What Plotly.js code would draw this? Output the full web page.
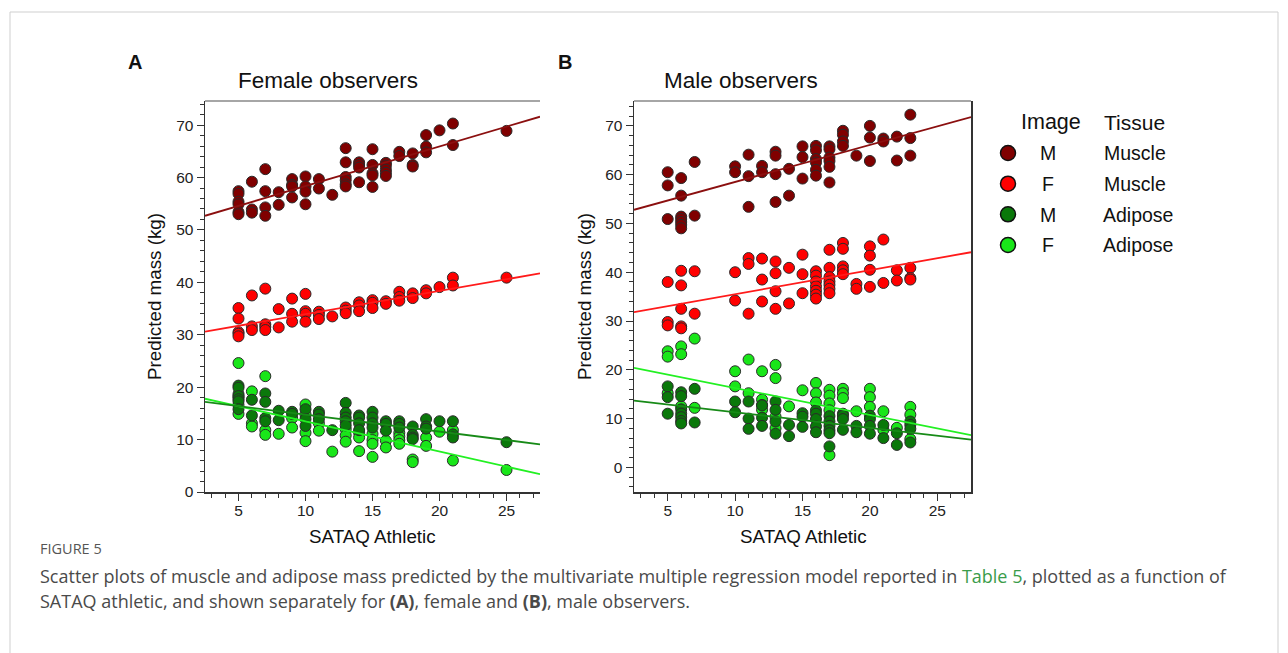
<!DOCTYPE html>
<html><head><meta charset="utf-8">
<script src="https://cdn.plot.ly/plotly-3.0.1.min.js"></script>
<style>html,body{margin:0;padding:0;background:#fff;} #chart{width:1288px;height:653px;}</style>
</head><body><div id="chart"></div>
<script>
// ---------------- DATA ----------------
const satA = [5,6,7,8,9,10,11,12,13,14,15,16,17,18,19,20,21,25];
const satB = [5,6,7,10,11,12,13,14,15,16,17,18,19,20,21,22,23];

// Panel A: female observers (values per SATAQ level, aligned with satA)
const aMuscleM = [[57.4,56.9,55.4,54.9,53.4,53.0],[59.2,53.9,53.3],[61.6,57.4,54.3,52.7],[57.2,54.8],[59.7,58.6,58.3,56.2],[60.2,58.3,57.3,54.9],[59.7,57.9],[56.7],[65.6,62.9,60.1,59.5,58.7,58.3],[62.9,62.4,61.9,59.1],[65.4,62.4,60.8,60.4,58.2],[62.8,62.3,61.5,60.9,60.3],[64.9,64.1],[64.6,62.4,62.1],[68.1,65.9,64.8],[69.0],[70.3,66.2],[68.9]];
const aMuscleF = [[35.1,33.1,30.5,30.2,29.7],[37.5,31.6,30.9],[38.8,32.0,31.5,30.9],[34.9,31.4],[36.9,34.0,32.5],[37.8,34.5,34.0,32.5],[34.4,33.8,33.0],[33.5],[35.2,34.6,34.1],[36.2,35.6,34.5],[36.6,36.1,35.1],[36.4,35.9],[38.2,37.2,36.5],[37.9,37.0],[38.5,37.9],[39.1],[40.9,39.4],[40.9]];
const aAdiposeM = [[20.3,19.9,18.3,17.7,17.3,15.8],[17.6,14.6],[18.8,17.2,14.1,13.5],[15.5,13.7],[15.3,14.9],[15.8,13.9,12.6],[15.3,14.8,13.9],[11.8],[17.0,15.1,14.2,13.5,12.7],[14.6,14.2,13.1,11.8],[15.3,14.2,13.1,12.3],[13.5,13.0,11.7],[13.5,13.0,12.3],[12.5,10.9,10.4,10.1],[13.9,12.5,12.1],[13.5],[13.5,11.0,10.4],[9.5]];
const aAdiposeF = [[24.6,18.7,18.1,16.6,14.9],[19.2,13.1,12.5],[22.1,11.8,10.9],[11.1],[14.1,12.3],[16.7,14.8,11.3,9.7],[13.1,11.7],[7.7],[12.0,10.8,9.6],[11.3,10.4,7.8],[11.1,9.9,9.2,6.7],[9.8,8.5],[11.3,10.6,9.9,9.2],[6.2,5.7],[10.4,8.8],[11.5],[11.8,6.0],[4.2]];

// Panel B: male observers (aligned with satB)
const bMuscleM = [[60.5,57.8,50.9],[59.3,55.7,51.4,50.9,50.3,49.7,49.0],[62.6,51.6],[61.7,60.5],[64.1,59.7,53.4],[61.8,60.5],[64.7,63.9,60.1,54.4],[61.2,55.7],[65.8,63.6,59.2],[65.9,65.0,63.2,62.5,61.0,59.8],[65.8,65.2,63.5,62.8,61.6,58.4],[69.0,68.2,66.8,65.9],[63.9],[70.0,67.6,62.8],[67.4,66.8],[67.8,62.9],[72.3,67.5,63.9]];
const bMuscleF = [[38.0,29.8,29.1],[40.3,37.3,32.5,28.9,28.5],[40.2,31.5],[40.0,34.2],[42.9,41.7,31.5],[42.8,38.5,34.0],[42.2,39.8,36.1,32.5],[40.9,33.6],[43.6,39.6,35.7],[40.2,39.3,38.1,37.1,36.2,35.4,34.6],[44.6,40.9,39.0,38.1,37.4,36.6,35.7],[46.0,44.8,41.2,40.4,39.6],[37.6,36.6],[45.3,43.4,40.5,37.0],[46.7,37.8],[40.4,38.3],[40.9,38.8,38.5]];
const bAdiposeM = [[16.6,14.4,11.0],[15.4,14.6,11.9,11.0,10.3,9.5,9.0],[16.1,9.2],[13.5,11.3],[13.5,10.0,7.9],[12.7,10.2,8.5],[13.5,11.8,9.4,6.9],[8.7,6.4],[11.1,10.4,8.3],[11.7,11.0,9.9,8.4,7.2],[10.5,9.4,8.5,7.6,7.0,4.3],[11.0,10.6,9.9,7.7],[8.5,7.2],[10.6,9.9,8.5,6.9],[8.7,6.0],[7.0,4.6],[9.4,8.7,7.9,5.1]];
const bAdiposeF = [[23.8,22.7,15.2],[24.8,23.2,12.5],[26.4,12.2],[19.7,16.6],[22.1,15.2],[19.7,13.9,12.8,11.8],[21.0,18.3,10.4,8.0],[12.5],[15.8],[17.3,15.2,13.3],[15.9,14.7,13.1,11.7,2.5],[16.1,15.2,14.2],[11.5],[16.1,14.4,12.4],[11.5,7.7],[8.1],[12.4,10.8,5.8]];

// Model lines (end values at lineX)
const lineX = [2.5, 27.5];
const aLineMuscleM = [52.7, 71.6];
const aLineMuscleF = [30.6, 41.7];
const aLineAdiposeM = [17.2, 9.1];
const aLineAdiposeF = [17.8, 3.4];
const bLineMuscleM = [52.8, 71.8];
const bLineMuscleF = [31.8, 44.1];
const bLineAdiposeM = [13.7, 5.7];
const bLineAdiposeF = [20.4, 6.6];

const yTicks = [0,10,20,30,40,50,60,70];
const xTicks = [5,10,15,20,25];
const legendImage = ['M','F','M','F'];
const legendTissue = ['Muscle','Muscle','Adipose','Adipose'];
const legendRows = [1,2,3,4];

// ---------------- STYLE ----------------
const W = 1288, H = 653;
const px = v => v / W, py = v => 1 - v / H;
const FONT = 'Liberation Sans, Arial, sans-serif';
const colors = {
  muscleM: '#800000', muscleF: '#ff0000', adiposeM: '#0a780a', adiposeF: '#19e619'
};
const lineColors = {
  muscleM: '#8b0f0f', muscleF: '#ff1a1a', adiposeM: '#178a17', adiposeF: '#22f022'
};

function expand(levels, groups) {
  const x = [], y = [];
  levels.forEach((lv, i) => groups[i].forEach(v => { x.push(lv); y.push(v); }));
  return {x, y};
}
function pts(levels, groups, color, xa, ya) {
  const d = expand(levels, groups);
  return {x: d.x, y: d.y, xaxis: xa, yaxis: ya, type: 'scatter', mode: 'markers',
    marker: {size: 11, color: color, line: {color: '#2a2a2a', width: 1}},
    showlegend: false, hoverinfo: 'skip'};
}
function line(vals, color, xa, ya) {
  return {x: lineX, y: vals, xaxis: xa, yaxis: ya, type: 'scatter', mode: 'lines',
    line: {color: color, width: 1.8}, showlegend: false, hoverinfo: 'skip'};
}

const traces = [
  pts(satA, aAdiposeF, colors.adiposeF, 'x', 'y'),
  pts(satA, aAdiposeM, colors.adiposeM, 'x', 'y'),
  pts(satA, aMuscleF, colors.muscleF, 'x', 'y'),
  pts(satA, aMuscleM, colors.muscleM, 'x', 'y'),
  line(aLineAdiposeF, lineColors.adiposeF, 'x', 'y'),
  line(aLineAdiposeM, lineColors.adiposeM, 'x', 'y'),
  line(aLineMuscleF, lineColors.muscleF, 'x', 'y'),
  line(aLineMuscleM, lineColors.muscleM, 'x', 'y'),
  pts(satB, bAdiposeF, colors.adiposeF, 'x2', 'y2'),
  pts(satB, bAdiposeM, colors.adiposeM, 'x2', 'y2'),
  pts(satB, bMuscleF, colors.muscleF, 'x2', 'y2'),
  pts(satB, bMuscleM, colors.muscleM, 'x2', 'y2'),
  line(bLineAdiposeF, lineColors.adiposeF, 'x2', 'y2'),
  line(bLineAdiposeM, lineColors.adiposeM, 'x2', 'y2'),
  line(bLineMuscleF, lineColors.muscleF, 'x2', 'y2'),
  line(bLineMuscleM, lineColors.muscleM, 'x2', 'y2'),
  {x: legendRows.map(() => 0.5), y: legendRows, xaxis: 'x3', yaxis: 'y3', type: 'scatter', mode: 'markers',
   marker: {size: 15, color: [colors.muscleM, colors.muscleF, colors.adiposeM, colors.adiposeF], line: {color: '#111', width: 1.5}},
   showlegend: false, hoverinfo: 'skip'}
];

const tickFont = {family: FONT, size: 15.5, color: '#222'};
function xAxis(dom, anchor) {
  return {domain: dom, anchor: anchor, range: [2.5, 27.5], tickvals: xTicks, ticktext: xTicks.map(String),
    ticks: 'outside', ticklen: 7, tickwidth: 1, tickcolor: '#333', showline: true, linecolor: '#333', linewidth: 1.5,
    showgrid: false, zeroline: false, tickfont: tickFont, fixedrange: true, ticklabelstandoff: -3,
    minor: {ticks: 'outside', ticklen: 4, tickwidth: 1, tickcolor: '#333', dtick: 1, tick0: 0, showgrid: false}};
}
function yAxis(dom, anchor, range, mirror) {
  return {domain: dom, anchor: anchor, range: range, tickvals: yTicks, ticktext: yTicks.map(String),
    ticks: 'outside', ticklen: 7, tickwidth: 1, tickcolor: '#333', showline: true, linecolor: '#333', linewidth: 1.5,
    mirror: mirror, showgrid: false, zeroline: false, tickfont: tickFont, fixedrange: true,
    minor: {ticks: 'outside', ticklen: 4, tickwidth: 1, tickcolor: '#333', dtick: 2, tick0: 0, showgrid: false}};
}

const yDom = [py(492), py(101)];
const ann = [];
function txt(x, y, text, size, opts) {
  ann.push(Object.assign({xref: 'paper', yref: 'paper', x: px(x), y: py(y), text: text, showarrow: false,
    font: {family: FONT, size: size, color: '#111'}, xanchor: 'center', yanchor: 'middle'}, opts || {}));
}
txt(135, 62, '<b>A</b>', 20);
txt(565, 62, '<b>B</b>', 20);
txt(327.5, 81, 'Female observers', 22.5);
txt(740.5, 81, 'Male observers', 22.5);
txt(155, 297, 'Predicted mass (kg)', 18.8, {textangle: -90});
txt(585, 297, 'Predicted mass (kg)', 18.8, {textangle: -90});
txt(372, 536, 'SATAQ Athletic', 18.8);
txt(803, 536, 'SATAQ Athletic', 18.8);
// legend headers and rows
txt(1050.5, 122, 'Image', 21.5);
txt(1134, 122, 'Tissue', 21);
const rowY = [153, 184, 215, 245];
const tissueX = [1134.5, 1134.5, 1137.5, 1137.5];
legendRows.forEach((r, i) => {
  txt(1048, rowY[i], legendImage[i], 19.5);
  txt(tissueX[i], rowY[i], legendTissue[i], 19.5);
});
// caption
const capFont = 'Open Sans, Noto Sans, sans-serif';
txt(38, 548, 'FIGURE 5', 14.5, {xanchor: 'left', font: {family: capFont, size: 14.5, color: '#555'}});
txt(38, 576, 'Scatter plots of muscle and adipose mass predicted by the multivariate multiple regression model reported in <span style="color:#3a9c4a">Table 5</span>, plotted as a function of', 18,
  {xanchor: 'left', font: {family: capFont, size: 18, color: '#4a4a4a'}});
txt(38, 601, 'SATAQ athletic, and shown separately for <b>(A)</b>, female and <b>(B)</b>, male observers.', 18,
  {xanchor: 'left', font: {family: capFont, size: 18, color: '#4a4a4a'}});

const layout = {
  width: W, height: H, margin: {l: 0, r: 0, t: 0, b: 0}, paper_bgcolor: '#fff', plot_bgcolor: 'rgba(0,0,0,0)',
  showlegend: false,
  xaxis: xAxis([px(205), px(540)], 'y'),
  yaxis: yAxis(yDom, 'x', [0, 74.6], false),
  xaxis2: xAxis([px(634), px(971)], 'y2'),
  yaxis2: yAxis(yDom, 'x2', [-5.05, 75.1], true),
  xaxis3: {domain: [px(990), px(1026)], anchor: 'y3', range: [0, 1], visible: false, fixedrange: true},
  yaxis3: {domain: [py(260.3), py(137.7)], anchor: 'x3', range: [4.5, 0.5], visible: false, fixedrange: true},
  annotations: ann,
  shapes: [
    {type: 'line', xref: 'x domain', yref: 'y domain', x0: 0, x1: 1, y0: 1, y1: 1, line: {color: '#888', width: 1.5}},
    {type: 'line', xref: 'x2 domain', yref: 'y2 domain', x0: 0, x1: 1, y0: 1, y1: 1, line: {color: '#888', width: 1.5}},
    {type: 'rect', xref: 'paper', yref: 'paper', x0: px(10), x1: px(1278), y0: py(700), y1: py(12), line: {color: '#cfcfcf', width: 1}}
  ]
};

Plotly.newPlot('chart', traces, layout, {staticPlot: true, displayModeBar: false});
</script></body></html>
